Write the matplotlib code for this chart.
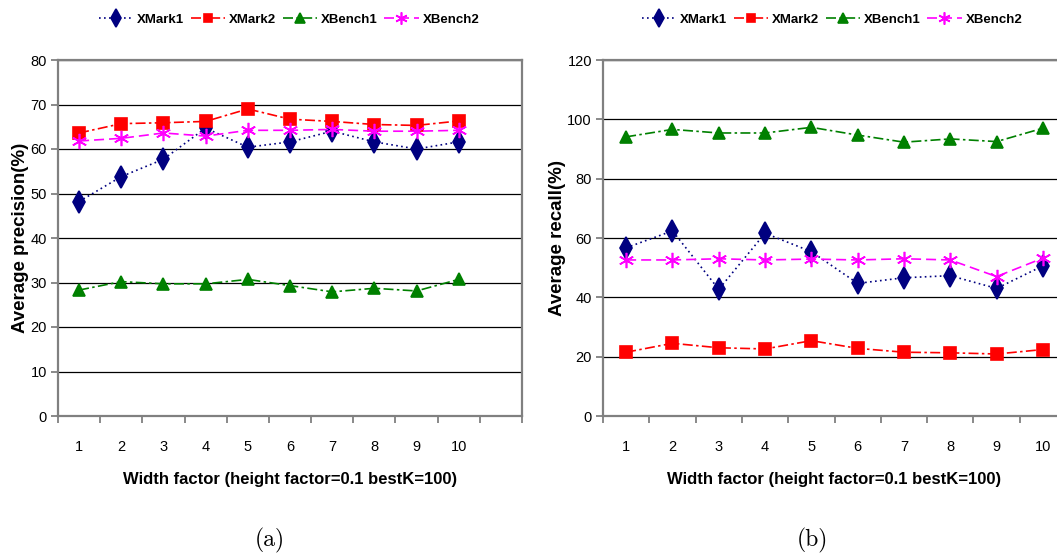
import matplotlib
matplotlib.use("Agg")
import matplotlib.pyplot as plt
from matplotlib.ticker import FixedLocator, NullFormatter

plt.rcParams['font.family'] = ['Liberation Sans', 'DejaVu Sans']

widths = [1, 2, 3, 4, 5, 6, 7, 8, 9, 10]
series = ["XMark1", "XMark2", "XBench1", "XBench2"]

# (a) average precision
prec_xmark1 = [48.2, 53.8, 57.7, 64.7, 60.4, 61.6, 64.0, 61.6, 60.0, 61.6]
prec_xmark2 = [63.6, 65.7, 65.9, 66.2, 69.0, 66.7, 66.2, 65.5, 65.3, 66.3]
prec_xbench1 = [28.3, 30.2, 29.7, 29.7, 30.7, 29.3, 27.9, 28.7, 28.1, 30.7]
prec_xbench2 = [61.8, 62.4, 63.6, 62.9, 64.2, 64.2, 64.4, 64.0, 64.0, 64.2]

# (b) average recall
rec_xmark1 = [56.7, 62.4, 42.7, 61.6, 55.4, 44.7, 46.6, 47.3, 43.0, 50.6]
rec_xmark2 = [21.5, 24.5, 23.0, 22.6, 25.4, 22.8, 21.5, 21.3, 20.9, 22.4]
rec_xbench1 = [94.1, 96.6, 95.4, 95.4, 97.3, 94.7, 92.3, 93.4, 92.5, 97.0]
rec_xbench2 = [52.6, 52.6, 53.0, 52.6, 52.9, 52.6, 53.0, 52.6, 47.0, 53.2]

styles = {
    "XMark1": dict(color="#000080", ls=(0, (1, 2)), marker="d", ms=11, lw=1.2),
    "XMark2": dict(color="#ff0000", ls=(0, (6, 2, 1.5, 2)), marker="s", ms=8, lw=1.2),
    "XBench1": dict(color="#008000", ls=(0, (6, 2, 1.5, 2)), marker="^", ms=9, lw=1.2),
    "XBench2": dict(color="#ff00ff", ls=(0, (6, 3)), marker=(6, 2, 0), ms=11, lw=1.2),
}

fig = plt.figure(figsize=(10.57, 5.56), dpi=100)
W, H = 1057.0, 556.0


def make_axes(rect, data, ymax, ystep, nslots, ylabel):
    ax = fig.add_axes(rect)
    for name, vals in zip(series, data):
        st = styles[name]
        ax.plot(widths, vals, color=st["color"], linestyle=st["ls"], lw=st["lw"],
                marker=st["marker"], markersize=st["ms"], markerfacecolor=st["color"],
                markeredgecolor=st["color"], markeredgewidth=1.2, label=name,
                clip_on=False, zorder=3)
    ax.set_xlim(0.5, nslots + 0.5)
    ax.set_ylim(0, ymax)
    ax.set_yticks(range(0, ymax + 1, ystep))
    ax.yaxis.grid(True, color="black", lw=0.9)
    ax.set_axisbelow(True)
    ax.xaxis.set_major_locator(FixedLocator(widths))
    ax.xaxis.set_minor_locator(FixedLocator([i + 0.5 for i in range(0, nslots + 1)]))
    ax.xaxis.set_minor_formatter(NullFormatter())
    ax.tick_params(axis="x", which="major", length=0, pad=17, labelsize=10.5)
    ax.tick_params(axis="x", which="minor", length=5, width=1.3, color="#808080", direction="out")
    ax.tick_params(axis="y", length=5, width=1.3, color="#808080", pad=3, labelsize=10.5)
    for sp in ax.spines.values():
        sp.set_color("#808080")
        sp.set_linewidth(1.6)
    ax.set_ylabel(ylabel, fontsize=13.5, fontweight="bold", labelpad=1)
    ax.set_xlabel("Width factor (height factor=0.1 bestK=100)", fontsize=12,
                  fontweight="bold", labelpad=13)
    return ax


axa = make_axes([58 / W, 1 - 416 / H, 464 / W, 356 / H],
                [prec_xmark1, prec_xmark2, prec_xbench1, prec_xbench2],
                80, 10, 11, "Average precision(%)")
axb = make_axes([603 / W, 1 - 416 / H, 463 / W, 356 / H],
                [rec_xmark1, rec_xmark2, rec_xbench1, rec_xbench2],
                120, 20, 10, "Average recall(%)")

for ax, cx in [(axa, 289), (axb, 832)]:
    h, l = ax.get_legend_handles_labels()
    fig.legend(h, l, loc="center", bbox_to_anchor=(cx / W, 1 - 20 / H), ncol=4,
               frameon=False, handlelength=2.6, handletextpad=0.3, markerscale=0.8,
               columnspacing=0.5, prop={"weight": "bold", "size": 9.5})

fig.text(270 / W, 1 - 540 / H, "(a)", family="cmr10", fontsize=17, ha="center", va="center")
fig.text(812 / W, 1 - 540 / H, "(b)", family="cmr10", fontsize=17, ha="center", va="center")

fig.savefig("out.png", dpi=100)
